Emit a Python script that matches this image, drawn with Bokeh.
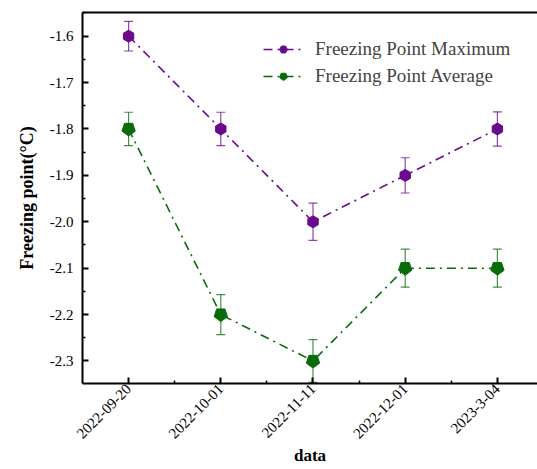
import math
from bokeh.plotting import figure
from bokeh.models import (ColumnDataSource, Range1d, FixedTicker, LinearAxis, Whisker,
                          TeeHead, Legend, LegendItem, PrintfTickFormatter)
from bokeh.embed import file_html
from bokeh.resources import INLINE

dates = ["2022-09-20", "2022-10-01", "2022-11-11", "2022-12-01", "2023-3-04"]
max_vals = [-1.6, -1.8, -2.0, -1.9, -1.8]
max_err = [0.032, 0.036, 0.040, 0.038, 0.037]
avg_vals = [-1.8, -2.2, -2.3, -2.1, -2.1]
avg_err = [0.036, 0.043, 0.046, 0.041, 0.041]
y_ticks = [-2.3, -2.2, -2.1, -2.0, -1.9, -1.8, -1.7, -1.6]

PURPLE = "#6a0a8c"
GREEN = "#0a6b0a"
FONT = "'Liberation Serif', 'Times New Roman', 'DejaVu Serif', serif"

xs = list(range(1, len(dates) + 1))
src_max = ColumnDataSource(dict(x=xs, y=max_vals,
                                lo=[v - e for v, e in zip(max_vals, max_err)],
                                hi=[v + e for v, e in zip(max_vals, max_err)]))
src_avg = ColumnDataSource(dict(x=xs, y=avg_vals,
                                lo=[v - e for v, e in zip(avg_vals, avg_err)],
                                hi=[v + e for v, e in zip(avg_vals, avg_err)]))

p = figure(width=537, height=469, output_backend="svg", toolbar_location=None,
           x_range=Range1d(0.5, 5.435), y_range=Range1d(-2.3485, -1.549),
           min_border_left=82, min_border_right=0, min_border_top=12, min_border_bottom=86)
p.outline_line_color = None
p.xgrid.visible = False
p.ygrid.visible = False
p.background_fill_color = "white"
p.border_fill_color = "white"

# error bars
for src, col in ((src_max, PURPLE), (src_avg, GREEN)):
    w = Whisker(base="x", lower="lo", upper="hi", source=src,
                line_color=col, line_alpha=0.75, line_width=1.2,
                upper_head=TeeHead(size=9, line_color=col, line_alpha=0.75, line_width=1.2),
                lower_head=TeeHead(size=9, line_color=col, line_alpha=0.75, line_width=1.2))
    p.add_layout(w)

l1 = p.line("x", "y", source=src_max, line_color=PURPLE, line_width=1.6, line_dash="9 5 2 5")
m1 = p.scatter("x", "y", source=src_max, marker="hex", size=12, fill_color=PURPLE,
               line_color=PURPLE, angle=math.pi / 6)
l2 = p.line("x", "y", source=src_avg, line_color=GREEN, line_width=1.6, line_dash="9 5 2 5")
m2 = p.ngon(x="x", y="y", source=src_avg, radius=7, radius_units="screen", n=5,
            angle=math.pi / 5, fill_color=GREEN, line_color=GREEN)

# axes
xa = p.xaxis[0]
xa.ticker = FixedTicker(ticks=xs, minor_ticks=[1.5, 2.5, 3.5, 4.5])
xa.major_label_overrides = {x: d for x, d in zip(xs, dates)}
xa.major_label_orientation = 0.785398
xa.axis_label = "data"
ya = p.yaxis[0]
ya.ticker = FixedTicker(ticks=y_ticks,
                        minor_ticks=[t + 0.05 for t in y_ticks])
ya.formatter = PrintfTickFormatter(format="%.1f")
ya.axis_label = "Freezing point(°C)"
for ax in (xa, ya):
    ax.axis_line_width = 2
    ax.axis_line_color = "black"
    ax.major_tick_in = 6
    ax.major_tick_out = 0
    ax.minor_tick_in = 3
    ax.minor_tick_out = 0
    ax.major_tick_line_width = 2
    ax.minor_tick_line_width = 1.5
    ax.major_label_text_font = FONT
    ax.major_label_text_font_size = "15px"
    ax.major_label_text_color = "black"
    ax.axis_label_text_font = FONT
    ax.axis_label_text_font_style = "bold"
    ax.axis_label_text_color = "black"
ya.major_label_standoff = 9
ya.axis_label_text_font_size = "18px"
ya.axis_label_standoff = 10
xa.major_label_text_font_size = "15px"
xa.major_label_standoff = 3
xa.axis_label_text_font_size = "17px"
xa.axis_label_standoff = 0

top = LinearAxis(ticker=FixedTicker(ticks=[]), major_label_text_font_size="0px",
                 axis_line_width=2, major_tick_in=0, major_tick_out=0,
                 minor_tick_in=0, minor_tick_out=0)
p.add_layout(top, "above")

legend = Legend(items=[LegendItem(label="Freezing Point Maximum", renderers=[l1, m1]),
                       LegendItem(label="Freezing Point Average", renderers=[l2, m2])],
                location=(181, 296), border_line_color=None, background_fill_alpha=0,
                label_text_font=FONT, label_text_font_size="19px",
                glyph_width=40, glyph_height=20, label_height=20, spacing=5,
                padding=5, margin=0, label_standoff=12)
p.add_layout(legend)

open("out.html", "w").write(file_html(p, INLINE))
